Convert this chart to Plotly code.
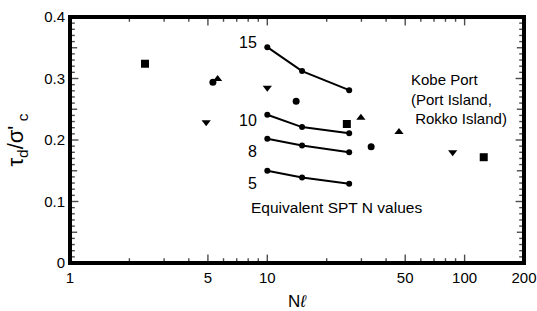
import math
import plotly.graph_objects as go

# Field data (Kobe Port: Port Island, Rokko Island)
sq_n = [2.4, 25.3, 125]
sq_r = [0.324, 0.226, 0.172]
ci_n = [5.3, 14.0, 33.6]
ci_r = [0.294, 0.263, 0.189]
tu_n = [5.6, 29.8, 46.5]
tu_r = [0.299, 0.236, 0.213]
td_n = [4.9, 10.0, 87.0]
td_r = [0.229, 0.285, 0.180]

# Equivalent SPT N value curves
spt_n = [10, 15, 26]
spt_labels = ["15", "10", "8", "5"]
spt_curves = [
    [0.351, 0.312, 0.281],
    [0.241, 0.221, 0.211],
    [0.202, 0.191, 0.180],
    [0.150, 0.139, 0.129],
]

x_ticks = [1, 5, 10, 50, 100, 200]
x_minor = [2, 3, 4, 6, 7, 8, 9, 20, 30, 40, 60, 70, 80, 90]
y_ticks = [0, 0.1, 0.2, 0.3, 0.4]
y_minor = [i / 100 for i in range(41) if i % 10 != 0]

X_MIN, X_MAX = 1, 200
Y_MIN, Y_MAX = 0, 0.4
FONT = "Liberation Sans, Arial, sans-serif"

W, H = 537, 311
L, R, T, B = 70, 13, 17, 48
PW, PH = W - L - R, H - T - B
LX = math.log10(X_MAX)

fig = go.Figure()

# ---- frame (axis decoration) ----
fig.add_trace(go.Scatter(x=[X_MIN, X_MAX, X_MAX, X_MIN, X_MIN],
                         y=[Y_MIN, Y_MIN, Y_MAX, Y_MAX, Y_MIN],
                         mode="lines+markers", line=dict(color="black", width=4),
                         marker=dict(size=1, color="black"),
                         showlegend=False, hoverinfo="skip"))

# ---- inward tick marks drawn as line markers ----
xt_x, xt_y, xt_s = [], [], []
for v, ln in [(v, 7) for v in x_ticks if X_MIN < v < X_MAX] + [(v, 4) for v in x_minor]:
    h = ln / 2 / PH * (Y_MAX - Y_MIN)
    xt_x += [v, v]
    xt_y += [Y_MIN + h, Y_MAX - h]
    xt_s += [ln, ln]
fig.add_trace(go.Scatter(x=xt_x, y=xt_y, mode="markers",
                         marker=dict(symbol="line-ns-open", size=xt_s, color="black",
                                     line=dict(color="black", width=1.4)),
                         showlegend=False, hoverinfo="skip"))

yt_x, yt_y, yt_s = [], [], []
for v in y_ticks + y_minor:
    if not (Y_MIN < v < Y_MAX):
        continue
    if v in y_ticks:
        ln = 7
    elif round(v * 100) % 10 == 5:
        ln = 6
    else:
        ln = 4
    xl = 10 ** (ln / 2 / PW * LX)
    xr = 10 ** (LX * (1 - ln / 2 / PW))
    yt_x += [xl, xr]
    yt_y += [v, v]
    yt_s += [ln, ln]
fig.add_trace(go.Scatter(x=yt_x, y=yt_y, mode="markers",
                         marker=dict(symbol="line-ew-open", size=yt_s, color="black",
                                     line=dict(color="black", width=1.4)),
                         showlegend=False, hoverinfo="skip"))

# ---- data ----
for curve in spt_curves:
    fig.add_trace(go.Scatter(x=spt_n, y=curve, mode="lines+markers",
                             line=dict(color="black", width=2),
                             marker=dict(symbol="circle", size=6, color="black"),
                             showlegend=False))

for xs, ys, sym, sz in [(sq_n, sq_r, "square", 8), (ci_n, ci_r, "circle", 7),
                        (tu_n, tu_r, "triangle-up", 8), (td_n, td_r, "triangle-down", 8)]:
    fig.add_trace(go.Scatter(x=xs, y=ys, mode="markers",
                             marker=dict(symbol=sym, size=sz, color="black"),
                             showlegend=False))

# curve labels
offsets = [0.007, -0.010, -0.021, -0.020]
for lab, curve, off in zip(spt_labels, spt_curves, offsets):
    fig.add_annotation(x=1, y=curve[0] + off, xref="x", yref="y", text=lab,
                       showarrow=False, xanchor="right", xshift=-8,
                       font=dict(size=16, color="black", family=FONT))


def px(xp):
    return (xp - L) / PW


def py(yp):
    return 1 - (yp - T) / PH


fig.add_annotation(x=px(336), y=py(207), xref="paper", yref="paper",
                   text="Equivalent SPT N values", showarrow=False,
                   xanchor="center", yanchor="middle",
                   font=dict(size=15.5, color="black", family=FONT))

fig.add_annotation(x=px(409), y=py(99), xref="paper", yref="paper",
                   text="Kobe Port<br>(Port Island,<br> Rokko Island)",
                   showarrow=False, xanchor="left", yanchor="middle", align="left",
                   font=dict(size=15, color="black", family=FONT))

tf = dict(size=15, color="black", family=FONT)

fig.update_layout(
    xaxis=dict(type="log", range=[0, LX], automargin=False,
               tickmode="array", tickvals=x_ticks, ticktext=[str(v) for v in x_ticks],
               ticks="", showline=True, linecolor="black", linewidth=2, mirror=True,
               showgrid=False, zeroline=False, tickfont=tf,
               title=dict(text="N<i>ℓ</i>", standoff=13,
                          font=dict(size=17, color="black", family=FONT))),
    yaxis=dict(range=[Y_MIN, Y_MAX], automargin=False,
               tickmode="array", tickvals=y_ticks,
               ticktext=["0", "0.1", "0.2", "0.3", "0.4"],
               ticks="", showline=True, linecolor="black", linewidth=2, mirror=True,
               showgrid=False, zeroline=False, tickfont=tf,
               title=dict(text="τ<sub>d</sub>/σ'<sub> c</sub>", standoff=14,
                          font=dict(size=22, color="black", family=FONT))),
    width=W, height=H, margin=dict(l=L, r=R, t=T, b=B),
    paper_bgcolor="white", plot_bgcolor="white",
)

fig.write_html("out.html", config={"displayModeBar": False},
               post_script="document.body.style.margin='0';")
